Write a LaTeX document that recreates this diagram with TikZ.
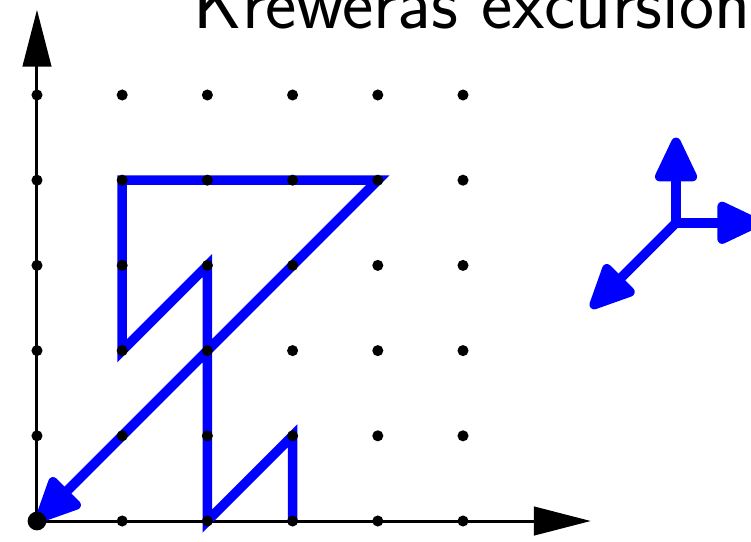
\documentclass[tikz,border=0pt]{standalone}
\usetikzlibrary{arrows.meta}
\begin{document}
\begin{tikzpicture}[x=1cm, y=1cm,
    axis/.style={line width=1pt, -{Triangle[length=19pt,width=9.5pt]}},
    walk/.style={blue, line width=3.2pt, -{Triangle[length=17pt,width=15pt,round]}}]
  \useasboundingbox (-0.434,-0.246) rectangle (8.38,6.115);
  % axes
  \draw[axis] (0,0) -- (6.5,0);
  \draw[axis] (0,0) -- (0,6);

  % the excursion
  \draw[walk] (3,0) -- (3,1) -- (2,0) -- (2,3) -- (1,2) -- (1,4) -- (4,4) -- (0,0);

  % lattice points
  \foreach \i in {0,...,5}
    \foreach \j in {0,...,5}
      \fill (\i,\j) circle (0.065);
  \fill (0,0) circle (0.11);

  % step set
  \coordinate (c) at (7.5,3.5);
  \draw[walk] (c) -- ++(0,1);
  \draw[walk] (c) -- ++(1,0);
  \draw[walk] (c) -- ++(-1,-1);

  \node[anchor=base west, inner sep=0pt, font=\sffamily\Huge] (title) at (1.83,5.786) {Kreweras excursion};
\end{tikzpicture}
\end{document}
